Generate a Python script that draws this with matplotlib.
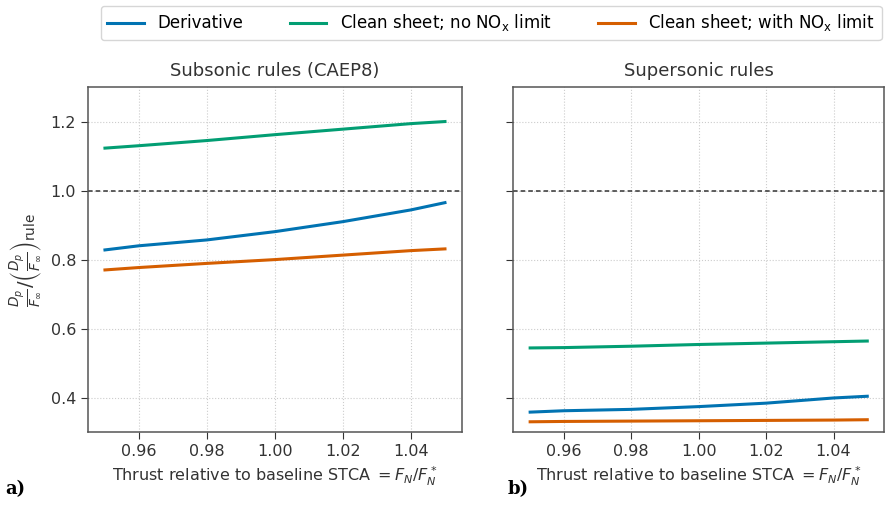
"""
Two-panel comparison of Dp/Foo relative to the rule limit versus thrust,
for subsonic (CAEP8) and supersonic rules.
"""
import matplotlib
matplotlib.use("Agg")
import matplotlib.pyplot as plt

plt.rcParams["font.family"] = ["DejaVu Sans"]
plt.rcParams["mathtext.fontset"] = "dejavusans"

# ---- data ----------------------------------------------------------------
thrust = [0.95, 0.96, 0.98, 1.00, 1.02, 1.04, 1.05]

sub_derivative = [0.828, 0.840, 0.857, 0.881, 0.910, 0.944, 0.965]
sub_clean_no_nox = [1.123, 1.130, 1.145, 1.162, 1.178, 1.194, 1.200]
sub_clean_nox = [0.770, 0.777, 0.789, 0.800, 0.813, 0.826, 0.831]

sup_derivative = [0.358, 0.362, 0.366, 0.374, 0.384, 0.399, 0.404]
sup_clean_no_nox = [0.544, 0.545, 0.549, 0.554, 0.558, 0.562, 0.564]
sup_clean_nox = [0.330, 0.331, 0.332, 0.333, 0.334, 0.335, 0.336]

labels = ["Derivative", r"Clean sheet; no NO$_\mathrm{x}$ limit",
          r"Clean sheet; with NO$_\mathrm{x}$ limit"]
colors = ["#0173b2", "#029e73", "#d55e00"]
titles = ["Subsonic rules (CAEP8)", "Supersonic rules"]
panel_tags = ["a)", "b)"]
yticks = [0.4, 0.6, 0.8, 1.0, 1.2]
xticks = [0.96, 0.98, 1.00, 1.02, 1.04]

fig = plt.figure(figsize=(8.85, 5.09), dpi=100)
ax_a = fig.add_axes([0.0994, 0.151, 0.4226, 0.678])
ax_b = fig.add_axes([0.580, 0.151, 0.419, 0.678], sharey=ax_a)

panels = [(ax_a, [sub_derivative, sub_clean_no_nox, sub_clean_nox]),
          (ax_b, [sup_derivative, sup_clean_no_nox, sup_clean_nox])]

handles = []
for i, (ax, series) in enumerate(panels):
    for vals, lab, col in zip(series, labels, colors):
        ln, = ax.plot(thrust, vals, color=col, lw=2.2, label=lab)
        if i == 0:
            handles.append(ln)
    ax.axhline(1.0, color="#333333", ls=(0, (3, 2)), lw=1.1)
    ax.set_ylim(0.3, 1.3)
    ax.set_xticks(xticks)
    ax.set_xticklabels([f"{t:.2f}" for t in xticks])
    ax.set_yticks(yticks)
    ax.grid(True, ls=":", color="#cccccc", lw=0.8)
    ax.set_title(titles[i], fontsize=13, color="#333333", pad=8)
    ax.set_xlabel(r"Thrust relative to baseline STCA $= F_N/F_N^*$",
                  fontsize=11.5, color="#333333")
    ax.tick_params(labelsize=11.5, colors="#333333", length=5, direction="out")
    for sp in ax.spines.values():
        sp.set_color("#555555")
        sp.set_linewidth(1.1)

ax_b.tick_params(labelleft=False)
ax_a.set_ylabel(r"$\frac{D_p}{F_\infty}/\left(\frac{D_p}{F_\infty}\right)_\mathrm{rule}$",
                fontsize=14, color="#333333")

fig.legend(handles=handles, labels=labels, loc="upper center",
           bbox_to_anchor=(0.555, 1.005), ncol=3, fontsize=12,
           frameon=True, edgecolor="#cccccc", handlelength=2.2,
           columnspacing=2.8)

fig.text(0.006, 0.03, panel_tags[0], fontsize=13, fontweight="bold",
         family="DejaVu Serif")
fig.text(0.574, 0.03, panel_tags[1], fontsize=13, fontweight="bold",
         family="DejaVu Serif")

fig.savefig("out.png", dpi=100)
